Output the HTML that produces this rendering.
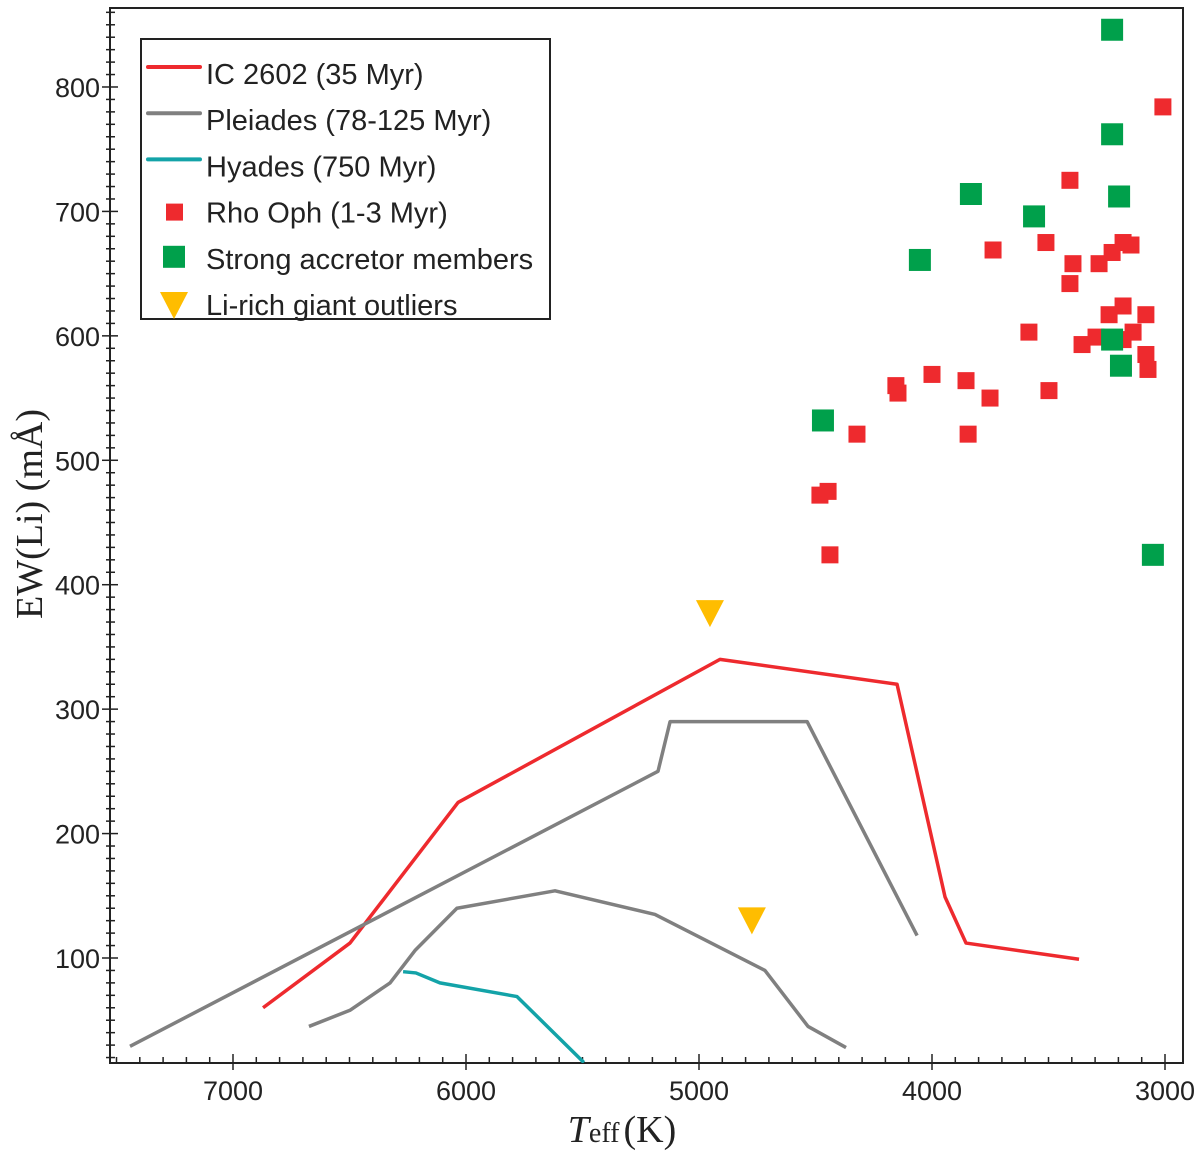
<!DOCTYPE html>
<html><head><meta charset="utf-8"><style>
html,body{margin:0;padding:0;background:#fff;}
svg{display:block;}
</style></head><body>
<svg id="chart" width="1200" height="1156" viewBox="0 0 1200 1156" xmlns="http://www.w3.org/2000/svg">
<g id="plot"></g>
</svg>
<script>
const xTicks=[7000,6000,5000,4000,3000];
const yTicks=[100,200,300,400,500,600,700,800];
const icT=[6871,6498,6034,4910,4150,3944,3854,3369];
const icV=[60,112,225,340,320,149,112,99];
const plUT=[7442,5176,5124,4536,4064];
const plUV=[29,250,290,290,118];
const plLT=[6674,6498,6326,6219,6039,5618,5189,4717,4532,4369];
const plLV=[45,58,80,106,140,154,135,90,45,28];
const hyT=[6270,6215,6112,5781,5494];
const hyV=[89,88,80,69,16];
const rhoT=[3009,3408,3738,3511,3395,3283,3408,3180,3146,3227,3180,3240,3082,3584,3137,3356,3296,3180,3082,3073,4000,4155,4146,3854,3751,3498,4322,3845,4481,4446,4438];
const rhoV=[784,725,669,675,658,658,642,675,673,667,624,617,617,603,603,593,599,597,585,573,569,560,554,564,550,556,521,521,472,475,424];
const accT=[3227,3227,3197,3833,3562,4052,3227,3189,4468,3052];
const accV=[846,762,712,714,696,661,597,576,532,424];
const gT=[4953,4773];
const gV=[378,131];

const L=110,R=1183,T=8,B=1063;
function X(t){return 233+(7000-t)*0.233;}
function Y(v){return 958-(v-100)*1.2443;}
const NS='http://www.w3.org/2000/svg';
const svg=document.getElementById('chart');
function mk(tag,attrs,parent){const e=document.createElementNS(NS,tag);for(const k in attrs)e.setAttribute(k,attrs[k]);(parent||svg).appendChild(e);return e;}

const defs=mk('defs',{});
const cp=mk('clipPath',{id:'clip'},defs);
mk('rect',{x:L,y:T,width:R-L,height:B-T},cp);

const frame=mk('rect',{x:L,y:T,width:R-L,height:B-T,fill:'none',stroke:'#222','stroke-width':2});



for(let t=7500;t>=2950;t-=100){
  const x=X(t); if(x<L||x>R)continue;
  const major=t%1000===0;
  const tk=mk('line',{x1:x,x2:x,y1:major?B-9:B-6,y2:major?B+7:B,stroke:'#222','stroke-width':1.5});
  
  
}
xTicks.forEach(t=>{
  const tx=mk('text',{x:X(t),y:B+37,'text-anchor':'middle','font-family':'Liberation Sans, sans-serif','font-size':27,fill:'#222'});
  tx.textContent=t;
  
  
});
for(let v=20;v<=860;v+=10){
  const y=Y(v); if(y<T||y>B)continue;
  const major=v%100===0;
  const tk=mk('line',{x1:major?L-8:L-4,x2:major?L+8:L+5,y1:y,y2:y,stroke:'#222','stroke-width':1.5});
  
  
}
yTicks.forEach(v=>{
  const tx=mk('text',{x:L-10,y:Y(v)+10,'text-anchor':'end','font-family':'Liberation Sans, sans-serif','font-size':27,fill:'#222'});
  tx.textContent=v;
  
  
});

const yt=mk('text',{x:0,y:0,transform:'translate(42,514) rotate(-90)','text-anchor':'middle','font-family':'Liberation Serif, serif','font-size':38,fill:'#222'});
yt.textContent='EW(Li) (mÅ)';


const xt=mk('text',{x:622,y:1142,'text-anchor':'middle','font-family':'Liberation Serif, serif','font-size':38,fill:'#222'});


xt.innerHTML='<tspan font-style="italic">T</tspan><tspan font-size="28">eff</tspan><tspan dx="4">(K)</tspan>';

const g=mk('g',{'clip-path':'url(#clip)'});
function line(ts,vs,color,name){
  const p=mk('polyline',{points:ts.map((t,i)=>X(t)+','+Y(vs[i])).join(' '),fill:'none',stroke:color,'stroke-width':3.5,'stroke-linejoin':'round'},g);
  
  
}
line(icT,icV,'#ee2a2e','ic2602-line');
line(plUT,plUV,'#808080','pleiades-upper-line');
line(plLT,plLV,'#808080','pleiades-lower-line');
line(hyT,hyV,'#13a3a8','hyades-line');

rhoT.forEach((t,i)=>{
  const r=mk('rect',{x:X(t)-8.5,y:Y(rhoV[i])-8.5,width:17,height:17,fill:'#ee2a2e'},g);
  
  
});
accT.forEach((t,i)=>{
  const r=mk('rect',{x:X(t)-11,y:Y(accV[i])-11,width:22,height:22,fill:'#00a04b'},g);
  
  
});
gT.forEach((t,i)=>{
  const x=X(t),y=Y(gV[i]);
  const p=mk('polygon',{points:`${x-14},${y-12} ${x+14},${y-12} ${x},${y+15}`,fill:'#ffbd00'},g);
  
  
});

const lg=mk('g',{});


mk('rect',{x:141,y:39,width:409,height:280,fill:'#fff',stroke:'#222','stroke-width':2},lg);
const labels=['IC 2602 (35 Myr)','Pleiades (78-125 Myr)','Hyades (750 Myr)','Rho Oph (1-3 Myr)','Strong accretor members','Li-rich giant outliers'];
labels.forEach((s,i)=>{
  const cy=67+i*46.2;
  const e=mk('g',{},lg);
  
  
  if(i<3){
    mk('line',{x1:148,x2:200,y1:cy,y2:cy,stroke:['#ee2a2e','#808080','#13a3a8'][i],'stroke-width':4,'stroke-linecap':'round'},e);
  }else if(i===3){
    mk('rect',{x:166,y:cy-2,width:17,height:17,fill:'#ee2a2e'},e);
  }else if(i===4){
    mk('rect',{x:163,y:cy-6,width:22,height:22,fill:'#00a04b'},e);
  }else{
    mk('polygon',{points:`160,${cy-6} 188,${cy-6} 174,${cy+21}`,fill:'#ffbd00'},e);
  }
  const t=mk('text',{x:206,y:cy+17,'font-family':'Liberation Sans, sans-serif','font-size':29,fill:'#222'},e);
  t.textContent=s;
});
</script>
</body></html>
